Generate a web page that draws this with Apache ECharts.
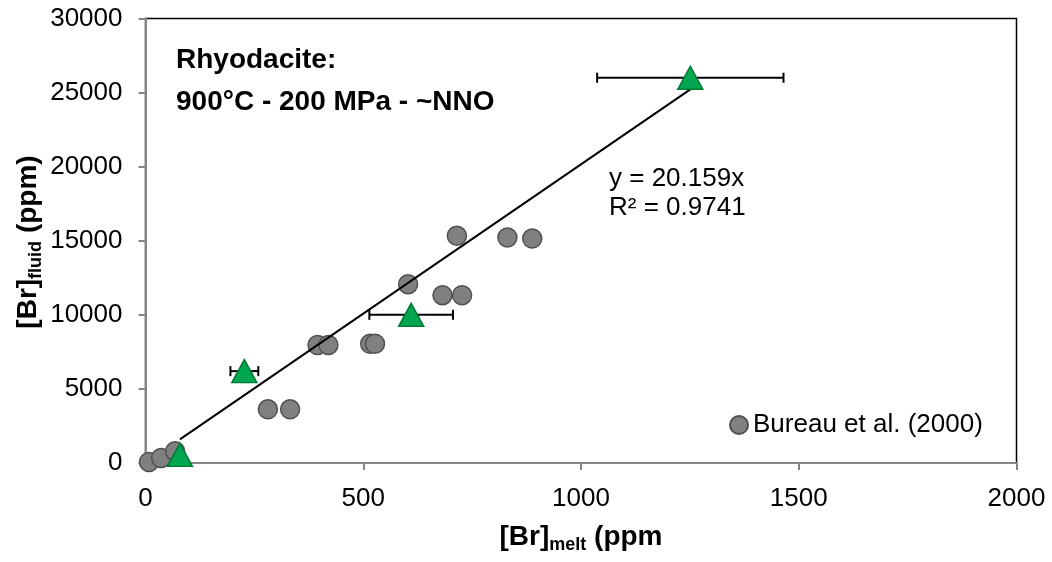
<!DOCTYPE html>
<html>
<head>
<meta charset="utf-8">
<script src="https://cdn.jsdelivr.net/npm/echarts@6/dist/echarts.min.js"></script>
<style>
html,body{margin:0;padding:0;background:#fff;}
#c{width:1052px;height:562px;}
</style>
</head>
<body>
<div id="c"></div>
<script>
// Bureau et al. (2000) data: melt Br (ppm), fluid Br (ppm)
var bureauX = [8, 36, 68, 281, 332, 395, 420, 516, 527, 603, 682, 727, 715, 831, 888];
var bureauY = [60, 340, 800, 3620, 3620, 7960, 7960, 8050, 8050, 12070, 11330, 11330, 15330, 15220, 15150];
// This study (triangles) with horizontal error bars
var expX = [79, 227, 610, 1251];
var expY = [550, 6200, 10000, 26000];
var expXErr = [0, 32, 96, 214];
// Linear fit through origin (from the chart's equation)
var trendSlope = 20.159;
var trendRangeX = [79, 1251];
var xTicks = [0, 500, 1000, 1500, 2000];
var yTicks = [0, 5000, 10000, 15000, 20000, 25000, 30000];

var FONT = '"Liberation Sans", Arial, sans-serif';

var bureauData = bureauX.map(function (x, i) { return [x, bureauY[i]]; });
var expData = expX.map(function (x, i) { return [x, expY[i]]; });
var errData = expX.map(function (x, i) { return [x, expY[i], expXErr[i]]; }).filter(function (d) { return d[2] > 0; });
var trendData = trendRangeX.map(function (x) { return [x, trendSlope * x]; });

var chart = echarts.init(document.getElementById('c'), null, {renderer: 'canvas'});
var axisGray = '#868686';
chart.setOption({
  animation: false,
  backgroundColor: '#fff',
  grid: {left: 145.5, right: 35.5, top: 18.5, bottom: 99, show: true, borderColor: '#000', borderWidth: 1.5, backgroundColor: 'transparent'},
  legend: {
    data: ['Bureau et al. (2000)'],
    left: 724, top: 407,
    icon: 'circle', itemWidth: 18, itemHeight: 18,
    textStyle: {fontFamily: FONT, fontSize: 26, color: '#000'},
    selectedMode: false
  },
  xAxis: {
    type: 'value', min: xTicks[0], max: xTicks[xTicks.length - 1], interval: 500,
    axisLine: {show: true, onZero: false, lineStyle: {color: axisGray, width: 2}},
    axisTick: {show: true, length: 7, lineStyle: {color: axisGray, width: 2}},
    splitLine: {show: false},
    axisLabel: {fontFamily: FONT, fontSize: 26, color: '#000', margin: 23, formatter: function (v) { return String(v); }}
  },
  yAxis: {
    type: 'value', min: yTicks[0], max: yTicks[yTicks.length - 1], interval: 5000,
    axisLine: {show: true, onZero: false, lineStyle: {color: axisGray, width: 2}},
    axisTick: {show: true, length: 7, lineStyle: {color: axisGray, width: 2}},
    splitLine: {show: false},
    axisLabel: {fontFamily: FONT, fontSize: 26, color: '#000', margin: 23, formatter: function (v) { return String(v); }}
  },
  series: [
    {
      name: 'Bureau et al. (2000)', type: 'scatter', data: bureauData, z: 1,
      symbol: 'circle', symbolSize: 19,
      itemStyle: {color: '#808080', borderColor: '#505050', borderWidth: 1.5, opacity: 1}
    },
    {
      name: 'trend', type: 'line', data: trendData, z: 2, showSymbol: false, symbol: 'none',
      lineStyle: {color: '#000', width: 2}, silent: true
    },
    {
      name: 'errors', type: 'custom', data: errData, z: 3,
      encode: {x: 0, y: 1},
      renderItem: function (params, api) {
        var x = api.value(0), y = api.value(1), e = api.value(2);
        var p1 = api.coord([x - e, y]);
        var p2 = api.coord([x + e, y]);
        var h = 5;
        var st = {stroke: '#000', lineWidth: 2};
        return {
          type: 'group',
          children: [
            {type: 'line', shape: {x1: p1[0], y1: p1[1], x2: p2[0], y2: p2[1]}, style: st},
            {type: 'line', shape: {x1: p1[0], y1: p1[1] - h, x2: p1[0], y2: p1[1] + h}, style: st},
            {type: 'line', shape: {x1: p2[0], y1: p2[1] - h, x2: p2[0], y2: p2[1] + h}, style: st}
          ]
        };
      }
    },
    {
      name: 'This study', type: 'scatter', data: expData, z: 4,
      symbol: 'triangle', symbolSize: [25, 23],
      itemStyle: {color: '#00A650', borderColor: '#007A35', borderWidth: 1.5, opacity: 1}
    }
  ],
  graphic: [
    {type: 'text', left: 176, top: 38.5, z: 10,
      style: {text: 'Rhyodacite:\n900°C - 200 MPa - ~NNO', font: 'bold 28px ' + FONT, fill: '#000', lineHeight: 42.7}},
    {type: 'text', left: 609, top: 164, z: 10,
      style: {text: 'y = 20.159x\nR² = 0.9741', font: '26px ' + FONT, fill: '#000', lineHeight: 29.4}},
    {type: 'text', x: 581, y: 537, z: 10,
      style: {
        text: '{a|[Br]}{b|melt}{a| (ppm}',
        align: 'center', verticalAlign: 'middle',
        rich: {
          a: {font: 'bold 28px ' + FONT, fill: '#000', lineHeight: 34},
          b: {font: 'bold 18px ' + FONT, fill: '#000', lineHeight: 12, verticalAlign: 'bottom'}
        }
      }},
    {type: 'text', x: 28, y: 242, rotation: Math.PI / 2, z: 10,
      style: {
        text: '{a|[Br]}{b|fluid}{a| (ppm)}',
        align: 'center', verticalAlign: 'middle',
        rich: {
          a: {font: 'bold 28px ' + FONT, fill: '#000', lineHeight: 34},
          b: {font: 'bold 18px ' + FONT, fill: '#000', lineHeight: 12, verticalAlign: 'bottom'}
        }
      }}
  ]
});
</script>
</body>
</html>
